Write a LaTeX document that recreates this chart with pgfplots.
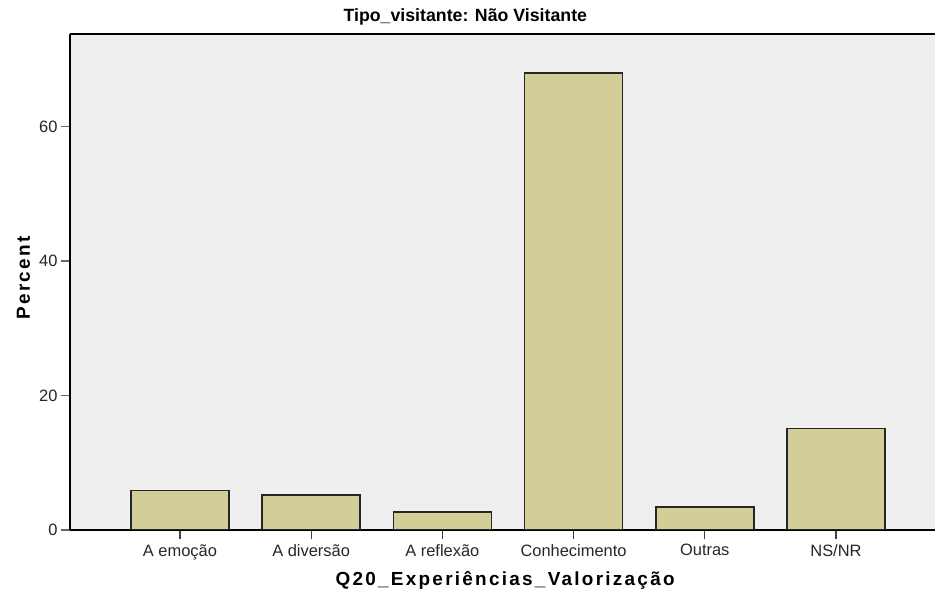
\documentclass[border=0pt]{standalone}
\usepackage{fontspec}
\setmainfont{Liberation Sans}
\newfontfamily\lblfont[LetterSpace=12]{Liberation Sans}
\usepackage{pgfplots}
\pgfplotsset{compat=1.18}
\definecolor{bgc}{HTML}{EFEFEF}
\definecolor{barfill}{HTML}{D3CE97}
\begin{document}
\begin{tikzpicture}
\begin{axis}[
  at={(0,0)}, anchor=south west,
  scale only axis, width=865bp, height=496bp,
  xmin=-0.838, xmax=5.755, ymin=0, ymax=73.8,
  axis x line*=bottom, axis y line*=left,
  axis line style={black, line width=1.2bp, -},
  axis background/.style={fill=bgc},
  ybar, bar width=98bp,
  xtick={0,1,2,3,4,5},
  xticklabels={A emoção, A diversão, A reflexão, Conhecimento, Outras, NS/NR},
  ytick={0,20,40,60},
  tick align=outside,
  major tick length=9bp,
  x tick style={black!75, line width=1.2bp},
  y tick style={black!60, line width=1.5bp},
  /pgf/number format/assume math mode=true,
  tick label style={font=\fontsize{16.5}{16.5}\selectfont, text=black!85},
  xticklabel style={yshift=-2bp},
  title={Tipo\_visitante: Não Visitante},
  title style={at={(axis description cs:0.457,1)}, anchor=base, yshift=7bp,
    font=\bfseries\fontsize{17.8}{17.8}\selectfont},
  xlabel={Q20\_Experiências\_Valorização},
  xlabel style={at={(axis description cs:0.503,0)}, anchor=base, yshift=-55bp,
    font=\lblfont\bfseries\fontsize{19}{19}\selectfont},
  ylabel={Percent},
  ylabel style={at={(axis description cs:0,0.508)}, anchor=base, yshift=40bp,
    font=\lblfont\bfseries\fontsize{19}{19}\selectfont},
]
\addplot[fill=barfill, draw=black!85, line width=1.5bp] coordinates {
  (0,5.9) (1,5.2) (2,2.7) (3,68.0) (4,3.4) (5,15.1)
};
\draw[black, line width=1.2bp] (rel axis cs:0,1) -- (rel axis cs:1,1);
\end{axis}
\pgfresetboundingbox
\path (-70bp,-71bp) rectangle (865bp,530bp);
\end{tikzpicture}
\end{document}
